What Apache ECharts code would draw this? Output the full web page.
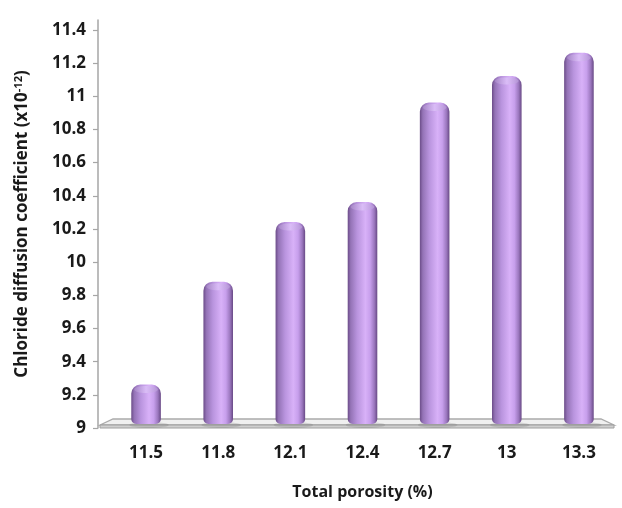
<!DOCTYPE html>
<html>
<head>
<meta charset="utf-8">
<script src="https://cdn.jsdelivr.net/npm/echarts@6/dist/echarts.min.js"></script>
<style>
  html, body { margin: 0; padding: 0; background: #ffffff; }
  #chart { width: 622px; height: 508px; }
</style>
</head>
<body>
<div id="chart"></div>
<script>
// Total porosity (%) categories and the chloride diffusion coefficient (x10^-12) per category
const porosity = ['11.5', '11.8', '12.1', '12.4', '12.7', '13', '13.3'];
const diffusion = [9.22, 9.84, 10.2, 10.32, 10.92, 11.08, 11.22];
const yTicks = [9, 9.2, 9.4, 9.6, 9.8, 10, 10.2, 10.4, 10.6, 10.8, 11, 11.2, 11.4];

const FONT = '"Open Sans", Lato, sans-serif';
const GRID = { left: 110, right: 7, top: 20, bottom: 80 };
const Y_OFFSET = 12;   // value axis sits a little left of the plot (3D wall)
const DEPTH = 4;       // half depth of the floor slab, in px

const chart = echarts.init(document.getElementById('chart'), null, { renderer: 'canvas' });

const bodyFill = new echarts.graphic.LinearGradient(0, 0, 1, 0, [
  { offset: 0.00, color: '#6b4c88' },
  { offset: 0.10, color: '#9473b6' },
  { offset: 0.32, color: '#b994de' },
  { offset: 0.60, color: '#d8b1f8' },
  { offset: 0.76, color: '#c79fec' },
  { offset: 0.90, color: '#9b77be' },
  { offset: 1.00, color: '#684985' }
]);
const capFill = new echarts.graphic.LinearGradient(0, 0, 1, 0, [
  { offset: 0.0, color: '#a98ac9' },
  { offset: 0.5, color: '#dcc0f8' },
  { offset: 1.0, color: '#b596d6' }
]);

function renderCylinder(params, api) {
  const idx = api.value(0);
  const val = api.value(1);
  const top = api.coord([idx, val]);
  const base = api.coord([idx, 9]);
  const bw = api.size([1, 0])[0] * 0.41;
  const cx = top[0];
  const yBase = base[1] - DEPTH;
  const yTop = top[1] - DEPTH - 3;
  return {
    type: 'group',
    children: [
      {
        type: 'ellipse',
        shape: { cx: cx + 3, cy: yBase + 1, rx: bw / 2 + 5, ry: 3 },
        style: { fill: 'rgba(90,90,90,0.18)' }
      },
      {
        type: 'rect',
        shape: { x: cx - bw / 2, y: yTop, width: bw, height: yBase - yTop, r: [9, 9, 5, 5] },
        style: { fill: bodyFill }
      },
      {
        type: 'ellipse',
        shape: { cx: cx, cy: yTop + 5, rx: bw / 2 - 3, ry: 3.5 },
        style: { fill: capFill, opacity: 0.85 }
      }
    ]
  };
}

chart.setOption({
  animation: false,
  backgroundColor: '#ffffff',
  grid: GRID,
  xAxis: {
    type: 'category',
    data: porosity,
    axisLine: { show: false },
    axisTick: { show: false },
    axisLabel: { margin: 17, color: '#1a1a1a', fontFamily: FONT, fontWeight: 'bold', fontSize: 17 },
    name: 'Total porosity (%)',
    nameLocation: 'middle',
    nameGap: 56,
    nameTextStyle: { color: '#1a1a1a', fontFamily: FONT, fontWeight: 'bold', fontSize: 16 }
  },
  yAxis: {
    type: 'value',
    min: 9,
    max: 11.46,
    offset: Y_OFFSET,
    splitLine: { show: false },
    axisLine: { show: true, lineStyle: { color: '#a6a6a6', width: 1.5 } },
    axisTick: { show: true, customValues: yTicks, length: 5, lineStyle: { color: '#a6a6a6', width: 1.2 } },
    axisLabel: {
      customValues: yTicks,
      margin: 12,
      color: '#1a1a1a',
      fontFamily: FONT,
      fontWeight: 'bold',
      fontSize: 17
    },
    name: '{t|Chloride diffusion coefficient (x10}{s|-12}{t|)}',
    nameLocation: 'middle',
    nameGap: 66,
    nameTextStyle: {
      rich: {
        t: { color: '#1a1a1a', fontFamily: FONT, fontWeight: 'bold', fontSize: 17 },
        s: { color: '#1a1a1a', fontFamily: FONT, fontWeight: 'bold', fontSize: 11, verticalAlign: 'top', padding: [0, 0, 8, 0] }
      }
    }
  },
  series: [{
    type: 'custom',
    renderItem: renderCylinder,
    encode: { x: 0, y: 1 },
    data: diffusion.map((v, i) => [i, v]),
    z: 3
  }]
});

// Floor slab of the 3D plot, placed from the axis scales
const yFloor = chart.convertToPixel({ yAxisIndex: 0 }, 9);
const xL = GRID.left - Y_OFFSET;
const xR = 622 - GRID.right;
chart.setOption({
  graphic: [
    {
      type: 'polygon',
      z: 1,
      shape: { points: [[xL + 2, yFloor - 3], [xL + 15, yFloor - 2 * DEPTH - 1], [xR - 14, yFloor - 2 * DEPTH - 1], [xR - 1, yFloor - 3]] },
      style: { fill: '#f0f0f0', stroke: '#aaaaaa', lineWidth: 1.3 }
    },
    {
      type: 'rect',
      z: 1,
      shape: { x: xL + 2, y: yFloor - 3, width: xR - xL - 3, height: 3 },
      style: { fill: '#cfcfcf', stroke: '#a0a0a0', lineWidth: 1 }
    }
  ]
});
</script>
</body>
</html>
